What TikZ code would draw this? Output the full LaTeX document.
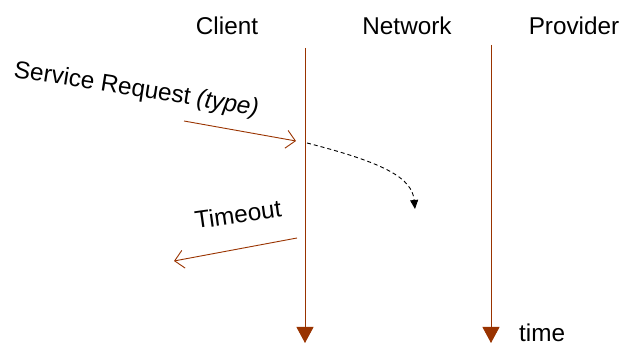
\documentclass[tikz,border=0pt]{standalone}
\usepackage{fontspec}
\setmainfont{Liberation Sans}
\usetikzlibrary{arrows.meta}
\definecolor{rust}{RGB}{153,51,0}
\tikzset{
  lbl/.style={inner sep=0pt, font=\fontsize{24.3}{28}\selectfont},
  lifeline/.style={draw=rust, line width=0.9pt, -{Triangle[length=16pt,width=17pt]}},
  msg/.style={draw=rust, line width=0.9pt, -{Straight Barb[length=9pt,width=18pt,line width=0.9pt]}},
  lost/.style={draw=black, line width=0.9pt, dash pattern=on 4pt off 3pt, -{Triangle[length=9pt,width=8pt]}}
}
\begin{document}
\begin{tikzpicture}[x=1pt,y=-1pt]
  \useasboundingbox (0,0) rectangle (625,347);

  % column headings
  \node[lbl, anchor=base] (client) at (227,35) {Client};
  \node[lbl, anchor=base] (network) at (407,35) {Network};
  \node[lbl, anchor=base] (provider) at (574,35) {Provider};

  % lifelines
  \coordinate (cTop) at (305,48);
  \coordinate (cBot) at (305,343);
  \coordinate (pTop) at (491,45);
  \coordinate (pBot) at (491,343);
  \draw[lifeline] (cTop) -- (cBot);
  \draw[lifeline] (pTop) -- (pBot);
  \node[lbl, anchor=base west] (time) at (519,342) {time};

  % request sent to the client
  \coordinate (reqA) at (184,121);
  \coordinate (reqB) at (296,141);
  \draw[msg] (reqA) -- (reqB);
  \node[lbl, anchor=base west, rotate=-9] (reqlbl) at (13,77) {Service Request \textit{(type)}};

  % request lost in the network
  \coordinate (lostA) at (307,143);
  \coordinate (lostB) at (415,209);
  \draw[lost] (lostA) .. controls (385,163) and (412,178) .. (lostB);

  % timeout reported back
  \coordinate (toA) at (297,238);
  \coordinate (toB) at (174,261);
  \draw[msg] (toA) -- (toB);
  \node[lbl, anchor=base west, rotate=8] (tolbl) at (196,229) {Timeout};
\end{tikzpicture}
\end{document}
